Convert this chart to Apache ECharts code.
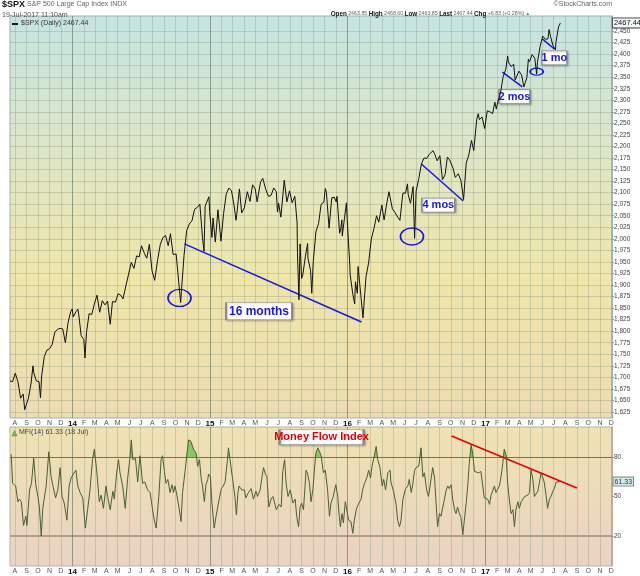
<!DOCTYPE html>
<html><head><meta charset="utf-8">
<script src="https://cdn.jsdelivr.net/npm/echarts@6.0.0/dist/echarts.min.js"></script>
<style>html,body{margin:0;padding:0;background:#fff;}#c{width:640px;height:576px;}</style>
</head><body><div id="c"></div>
<script>
// ---------- DATA ----------
const priceDates = ['2013-07-19','2013-07-26','2013-08-02','2013-08-09','2013-08-15','2013-08-16','2013-08-23','2013-08-27','2013-08-30','2013-09-06','2013-09-13','2013-09-18','2013-09-20','2013-09-27','2013-10-04','2013-10-08','2013-10-11','2013-10-18','2013-10-25','2013-11-01','2013-11-08','2013-11-15','2013-11-22','2013-11-29','2013-12-06','2013-12-13','2013-12-20','2013-12-27','2013-12-31',
'2014-01-03','2014-01-10','2014-01-15','2014-01-17','2014-01-24','2014-01-31','2014-02-03','2014-02-07','2014-02-14','2014-02-21','2014-02-28','2014-03-07','2014-03-14','2014-03-21','2014-03-28','2014-04-04','2014-04-11','2014-04-17','2014-04-25','2014-05-02','2014-05-09','2014-05-15','2014-05-23','2014-05-30','2014-06-06','2014-06-13','2014-06-20','2014-06-27','2014-07-03','2014-07-11','2014-07-17','2014-07-24','2014-07-31','2014-08-07','2014-08-15','2014-08-22','2014-08-29','2014-09-05','2014-09-12','2014-09-18','2014-09-25','2014-10-03','2014-10-10','2014-10-15','2014-10-17','2014-10-24','2014-10-31','2014-11-07','2014-11-14','2014-11-21','2014-11-28','2014-12-05','2014-12-12','2014-12-16','2014-12-19','2014-12-29','2014-12-31',
'2015-01-06','2015-01-09','2015-01-15','2015-01-22','2015-01-30','2015-02-06','2015-02-13','2015-02-20','2015-02-27','2015-03-06','2015-03-11','2015-03-13','2015-03-20','2015-03-26','2015-04-02','2015-04-10','2015-04-17','2015-04-24','2015-05-01','2015-05-06','2015-05-15','2015-05-21','2015-05-29','2015-06-05','2015-06-12','2015-06-19','2015-06-26','2015-06-29','2015-07-02','2015-07-08','2015-07-17','2015-07-24','2015-07-31','2015-08-07','2015-08-14','2015-08-20','2015-08-21','2015-08-25','2015-08-28','2015-09-01','2015-09-04','2015-09-11','2015-09-17','2015-09-18','2015-09-25','2015-09-28','2015-10-02','2015-10-09','2015-10-16','2015-10-23','2015-10-30','2015-11-03','2015-11-06','2015-11-13','2015-11-20','2015-11-27','2015-12-02','2015-12-04','2015-12-11','2015-12-14','2015-12-17','2015-12-18','2015-12-29','2015-12-31',
'2016-01-07','2016-01-08','2016-01-15','2016-01-20','2016-01-22','2016-01-27','2016-01-29','2016-02-05','2016-02-11','2016-02-19','2016-02-26','2016-03-04','2016-03-11','2016-03-18','2016-03-24','2016-04-01','2016-04-07','2016-04-15','2016-04-20','2016-04-29','2016-05-06','2016-05-13','2016-05-19','2016-05-27','2016-06-03','2016-06-08','2016-06-10','2016-06-16','2016-06-23','2016-06-27','2016-07-01','2016-07-08','2016-07-15','2016-07-22','2016-07-29','2016-08-05','2016-08-15','2016-08-19','2016-08-26','2016-09-02','2016-09-09','2016-09-16','2016-09-22','2016-09-28','2016-09-30','2016-10-07','2016-10-13','2016-10-21','2016-10-28','2016-11-04','2016-11-11','2016-11-18','2016-11-25','2016-12-01','2016-12-09','2016-12-13','2016-12-16','2016-12-23','2016-12-30',
'2017-01-06','2017-01-13','2017-01-20','2017-01-26','2017-01-30','2017-02-03','2017-02-10','2017-02-17','2017-02-24','2017-03-01','2017-03-03','2017-03-10','2017-03-17','2017-03-21','2017-03-24','2017-03-31','2017-04-07','2017-04-13','2017-04-21','2017-04-25','2017-04-28','2017-05-05','2017-05-12','2017-05-17','2017-05-19','2017-05-26','2017-06-02','2017-06-09','2017-06-16','2017-06-19','2017-06-23','2017-06-29','2017-07-06','2017-07-07','2017-07-14','2017-07-18','2017-07-19'];
const priceValues = [1692,1691,1709,1691,1661,1655,1664,1630,1633,1655,1688,1725,1710,1692,1691,1656,1703,1745,1759,1762,1771,1798,1804,1806,1805,1775,1818,1842,1848,
1831,1842,1848,1839,1790,1782,1742,1797,1838,1836,1859,1878,1841,1866,1857,1865,1815,1864,1863,1881,1878,1870,1900,1924,1949,1936,1963,1961,1985,1968,1958,1988,1931,1910,1955,1988,2003,2007,1985,2011,1966,1967,1906,1862,1886,1964,2018,2032,2039,2064,2068,2075,2002,1973,2071,2091,2059,
2003,2045,1993,2063,1995,2055,2097,2110,2104,2071,2040,2053,2108,2056,2067,2102,2081,2117,2108,2080,2123,2131,2107,2092,2094,2110,2102,2058,2077,2047,2127,2080,2104,2078,2092,2036,1971,1868,1989,1914,1921,1961,1990,1958,1931,1882,1951,2015,2033,2075,2079,2109,2100,2023,2089,2090,2080,2092,2012,2022,2041,2006,2078,2044,
1943,1922,1880,1859,1907,1882,1940,1880,1829,1918,1948,1999,2022,2050,2036,2073,2041,2081,2102,2065,2057,2047,2040,2099,2099,2119,2096,2077,2113,2001,2103,2130,2162,2175,2174,2183,2191,2184,2169,2180,2128,2139,2177,2171,2168,2153,2133,2141,2126,2085,2164,2182,2213,2191,2259,2271,2258,2264,2239,
2277,2275,2271,2296,2281,2297,2316,2351,2367,2396,2383,2373,2378,2344,2344,2363,2355,2329,2349,2389,2384,2399,2391,2357,2382,2416,2439,2432,2433,2453,2438,2419,2409,2425,2459,2460,2467.44];

const mfiDates = ['2013-07-22','2013-07-26','2013-08-03','2013-08-09','2013-08-13','2013-08-18','2013-08-24','2013-08-30','2013-09-02','2013-09-09','2013-09-14','2013-09-20','2013-09-25','2013-10-01','2013-10-05','2013-10-10','2013-10-14','2013-10-23','2013-10-30','2013-11-05','2013-11-10','2013-11-17','2013-11-23','2013-11-29','2013-12-04','2013-12-10','2013-12-17','2013-12-23','2013-12-28',
'2014-01-03','2014-01-10','2014-01-15','2014-01-21','2014-01-28','2014-02-04','2014-02-10','2014-02-16','2014-02-23','2014-02-28','2014-03-06','2014-03-13','2014-03-18','2014-03-24','2014-03-31','2014-04-04','2014-04-11','2014-04-18','2014-04-22','2014-04-28','2014-05-03','2014-05-07','2014-05-14','2014-05-21','2014-05-27','2014-06-03','2014-06-06','2014-06-10','2014-06-17','2014-06-23','2014-06-29','2014-07-06','2014-07-12','2014-07-19','2014-07-26','2014-08-02','2014-08-06','2014-08-11','2014-08-18','2014-08-24','2014-08-28','2014-09-02','2014-09-06','2014-09-11','2014-09-17','2014-09-22','2014-09-26','2014-09-30','2014-10-05','2014-10-11','2014-10-16','2014-10-20','2014-10-27','2014-11-01','2014-11-05','2014-11-11','2014-11-18','2014-11-25','2014-11-29','2014-12-04','2014-12-08','2014-12-12','2014-12-17','2014-12-21','2014-12-26','2014-12-28',
'2015-01-02','2015-01-06','2015-01-12','2015-01-17','2015-01-21','2015-01-26','2015-01-31','2015-02-05','2015-02-10','2015-02-16','2015-02-19','2015-02-23','2015-03-02','2015-03-08','2015-03-12','2015-03-16','2015-03-19','2015-03-26','2015-04-02','2015-04-06','2015-04-13','2015-04-20','2015-04-26','2015-05-03','2015-05-07','2015-05-14','2015-05-19','2015-05-23','2015-05-28','2015-06-01','2015-06-06','2015-06-12','2015-06-17','2015-06-21','2015-06-26','2015-07-03','2015-07-09','2015-07-13','2015-07-18','2015-07-22','2015-07-27','2015-08-02','2015-08-09','2015-08-15','2015-08-19','2015-08-24','2015-08-28','2015-09-01','2015-09-06','2015-09-13','2015-09-17','2015-09-22','2015-09-26','2015-10-01','2015-10-05','2015-10-09','2015-10-14','2015-10-19','2015-10-23','2015-10-29','2015-11-03','2015-11-09','2015-11-14','2015-11-18','2015-11-23','2015-11-27','2015-12-01','2015-12-06','2015-12-10','2015-12-13','2015-12-17','2015-12-21','2015-12-26','2015-12-30',
'2016-01-04','2016-01-10','2016-01-15','2016-01-19','2016-01-25','2016-01-31','2016-02-06','2016-02-10','2016-02-15','2016-02-21','2016-02-26','2016-03-02','2016-03-06','2016-03-12','2016-03-17','2016-03-21','2016-03-27','2016-04-02','2016-04-06','2016-04-11','2016-04-17','2016-04-23','2016-04-25','2016-05-02','2016-05-09','2016-05-13','2016-05-18','2016-05-22','2016-05-27','2016-06-03','2016-06-09','2016-06-13','2016-06-18','2016-06-22','2016-06-27','2016-07-01','2016-07-08','2016-07-14','2016-07-19','2016-07-23','2016-07-29','2016-08-03','2016-08-10','2016-08-14','2016-08-19','2016-08-23','2016-08-27','2016-09-01','2016-09-05','2016-09-10','2016-09-14','2016-09-19','2016-09-23','2016-09-27','2016-10-02','2016-10-06','2016-10-11','2016-10-15','2016-10-19','2016-10-24','2016-10-28','2016-11-02','2016-11-06','2016-11-11','2016-11-15','2016-11-19','2016-11-24','2016-11-28','2016-12-03','2016-12-07','2016-12-14','2016-12-20','2016-12-25','2016-12-29',
'2017-01-03','2017-01-07','2017-01-12','2017-01-16','2017-01-20','2017-01-25','2017-01-29','2017-02-03','2017-02-07','2017-02-11','2017-02-16','2017-02-20','2017-02-25','2017-03-01','2017-03-06','2017-03-10','2017-03-15','2017-03-19','2017-03-23','2017-03-28','2017-04-01','2017-04-06','2017-04-10','2017-04-15','2017-04-19','2017-04-23','2017-04-28','2017-05-02','2017-05-07','2017-05-11','2017-05-15','2017-05-20','2017-05-24','2017-05-29','2017-06-02','2017-06-06','2017-06-11','2017-06-15','2017-06-20','2017-06-24','2017-06-29','2017-07-03','2017-07-08','2017-07-12','2017-07-18'];
const mfiValues = [82,60,58,46,48,46,28,35,28,55,60,79,60,50,42,20,41,58,84,65,58,49,55,72,50,45,32,58,64,
67,70,58,53,49,26,40,54,78,86,70,46,51,41,58,50,40,54,48,68,78,68,58,41,63,81,93,78,79,61,81,60,61,55,53,39,32,26,50,78,81,69,60,63,53,59,53,58,51,41,31,53,70,83,93,92,86,83,73,78,65,58,46,59,63,67,
65,45,26,35,36,49,56,58,61,77,87,78,63,50,36,53,58,55,55,49,53,56,48,54,50,55,65,72,67,65,42,48,50,49,40,44,42,69,78,60,50,55,45,48,35,27,42,45,40,70,67,60,46,55,70,83,87,84,81,68,70,55,35,45,49,50,59,50,35,27,37,30,46,46,
32,31,22,32,41,45,48,55,60,64,70,64,73,81,88,78,72,58,63,55,68,70,61,54,44,32,27,32,48,56,58,63,53,59,70,72,73,87,65,68,55,50,64,72,64,45,27,37,35,42,41,55,58,56,59,48,40,37,42,37,34,21,32,45,58,75,89,83,69,68,68,69,58,49,
48,48,44,51,50,58,53,54,58,64,75,86,81,60,46,37,40,27,40,46,41,46,45,50,49,51,53,70,63,50,49,54,60,68,69,61,51,41,48,50,54,56,61,62,61.33];

const priceTicks = [1625,1650,1675,1700,1725,1750,1775,1800,1825,1850,1875,1900,1925,1950,1975,2000,2025,2050,2075,2100,2125,2150,2175,2200,2225,2250,2275,2300,2325,2350,2375,2400,2425,2450];
const mfiTicks = [20,50,80];
const mfiLevels = [80,20];
const monthLetters = ['J','F','M','A','M','J','J','A','S','O','N','D'];
const yearStarts = ['2014-01-01','2015-01-01','2016-01-01','2017-01-01'];
const lastPrice = ['2017-07-19', 2467.44];
const lastMfi = ['2017-07-18', 61.33];
// annotations (data coordinates: date, price)
const trendLines = [
  [['2014-10-25',1989],['2016-02-07',1820]],
  [['2016-07-15',2162],['2016-11-03',2082]],
  [['2017-02-15',2361],['2017-04-09',2329]],
  [['2017-06-01',2433],['2017-07-03',2411]]
];
const lowCircles = [['2014-10-12',1872,'big'],['2016-06-20',2005,'big'],['2017-05-17',2362,'small']];
const notes = [
  ['16 months','2015-05-11',1843],
  ['4 mos','2016-08-29',2073],
  ['2 mos','2017-03-19',2308],
  ['1 mo','2017-07-03',2392]
];
const mfiTrend = [['2016-10-03',96],['2017-09-01',56.5]];
const mfiNote = ['Money Flow Index','2015-10-24',95.2];

// ---------- AXIS CATEGORIES (calendar days) ----------
const days = [];
for (let t = Date.UTC(2013,6,19); t <= Date.UTC(2017,11,3); t += 86400000) days.push(new Date(t).toISOString().slice(0,10));
const isMonthStart = (i, v) => v.slice(8) === '01';
const FONT = '"Liberation Sans", Arial, sans-serif';

const priceData = priceDates.map((d, i) => [d, priceValues[i]]);
const mfiData = mfiDates.map((d, i) => [d, mfiValues[i]]);

function xAxisCfg(gi, showLabels) {
  return {
    type: 'category', gridIndex: gi, data: days, boundaryGap: false,
    axisLine: {show: false}, axisTick: {show: false},
    axisLabel: {
      show: showLabels, interval: isMonthStart, margin: 2, fontSize: 7, color: '#555', fontFamily: FONT,
      formatter: v => { const m = +v.slice(5,7); return m === 1 ? '{y|' + v.slice(2,4) + '}' : monthLetters[m-1]; },
      rich: {y: {fontWeight: 'bold', fontSize: 8, color: '#111', fontFamily: FONT}}
    },
    splitLine: {show: gi !== 2, interval: isMonthStart, lineStyle: {color: 'rgba(100,125,105,0.25)', width: 1}}
  };
}

const priceBg = new echarts.graphic.LinearGradient(0,0,0,1,[
  {offset:0, color:'#c5e4e2'},{offset:0.35, color:'#dfe6c6'},{offset:0.65, color:'#efe6aa'},{offset:1, color:'#eddcb2'}]);
const mfiBg = new echarts.graphic.LinearGradient(0,0,0,1,[
  {offset:0, color:'#efe2b2'},{offset:1, color:'#ead3c4'}]);

const blue = '#1818e0';
const noteSizes = {'16 months':[66,17], '4 mos':[33,14], '2 mos':[31,14], '1 mo':[25,14]};

const option = {
  animation: false,
  backgroundColor: '#ffffff',
  grid: [
    {left: 10, right: 28, top: 16, height: 402, show: true, backgroundColor: priceBg, borderColor: '#9fb3b3', borderWidth: 1},
    {left: 10, right: 28, top: 427, height: 139, show: true, backgroundColor: mfiBg, borderColor: '#b9b0a0', borderWidth: 1},
    {left: 10, right: 28, top: 427, height: 30.3, show: false}
  ],
  xAxis: [xAxisCfg(0, true), xAxisCfg(1, true), Object.assign(xAxisCfg(2, false), {show: false})],
  yAxis: [
    {type: 'value', gridIndex: 0, position: 'right', min: 1612, max: 2482.5,
      axisLine: {show: true, lineStyle: {color: '#9fb3b3'}},
      axisTick: {show: true, customValues: priceTicks, length: 2, lineStyle: {color: '#999'}},
      axisLabel: {customValues: priceTicks, fontSize: 6.5, color: '#444', margin: 2, fontFamily: FONT},
      splitLine: {show: true, lineStyle: {color: 'rgba(100,125,105,0.25)'}}},
    {type: 'value', gridIndex: 1, position: 'right', min: -2.8, max: 102.8,
      axisLine: {show: true, lineStyle: {color: '#b9b0a0'}},
      axisTick: {show: true, customValues: mfiTicks, length: 2, lineStyle: {color: '#999'}},
      axisLabel: {customValues: mfiTicks, fontSize: 6.5, color: '#444', margin: 2, fontFamily: FONT},
      splitLine: {show: false}},
    {type: 'value', gridIndex: 2, min: 80, max: 102.8, show: false, splitLine: {show: false}}
  ],
  series: [
    {
      type: 'line', name: '$SPX', xAxisIndex: 0, yAxisIndex: 0, data: priceData, symbol: 'none', z: 5,
      lineStyle: {color: '#111', width: 1}, itemStyle: {color: '#111'},
      markLine: {
        silent: true, symbol: ['none','none'], label: {show: false}, animation: false,
        data: yearStarts.map(y => ({xAxis: y, lineStyle: {color: 'rgba(80,105,85,0.45)', width: 1, type: 'solid'}}))
          .concat(trendLines.map(t => [{coord: t[0], lineStyle: {color: blue, width: 1.5, type: 'solid'}}, {coord: t[1]}]))
      },
      markPoint: {
        silent: true, animation: false,
        data: lowCircles.map(c => ({coord: [c[0], c[1]], symbol: 'circle', symbolSize: c[2] === 'big' ? [23,17] : [13,7],
            itemStyle: {color: 'rgba(0,0,0,0)', borderColor: blue, borderWidth: 1.5}, label: {show: false}}))
          .concat(notes.map(n => ({coord: [n[1], n[2]], symbol: 'rect', symbolSize: noteSizes[n[0]],
            itemStyle: {color: '#ffffff', borderColor: '#8a8a8a', borderWidth: 1, shadowColor: 'rgba(0,0,0,0.25)', shadowBlur: 2, shadowOffsetX: 1, shadowOffsetY: 1},
            label: {show: true, position: 'inside', formatter: n[0], color: blue, fontWeight: 'bold', fontSize: n[0] === '16 months' ? 12 : 11, fontFamily: FONT}})))
          .concat([{coord: lastPrice, symbol: 'rect', symbolSize: [1,1], itemStyle: {color: 'rgba(0,0,0,0)'},
            label: {show: true, position: 'right', distance: 52, formatter: String(lastPrice[1]), fontSize: 7.5, color: '#111', fontFamily: FONT,
              backgroundColor: '#f2fafa', borderColor: '#444', borderWidth: 1, padding: [1,1,0,1]}}])
      }
    },
    {
      type: 'line', name: 'MFI fill', xAxisIndex: 2, yAxisIndex: 2, data: mfiData, symbol: 'none', z: 3, clip: true,
      lineStyle: {width: 0}, areaStyle: {origin: 'start', color: '#86c766', opacity: 1}, silent: true
    },
    {
      type: 'line', name: 'MFI', xAxisIndex: 1, yAxisIndex: 1, data: mfiData, symbol: 'none', z: 5,
      lineStyle: {color: '#4c5f2f', width: 1}, itemStyle: {color: '#4c5f2f'},
      markLine: {
        silent: true, symbol: ['none','none'], label: {show: false}, animation: false,
        data: [
          {yAxis: mfiLevels[0], lineStyle: {color: '#8b6b52', width: 1, type: 'solid'}},
          {yAxis: mfiLevels[1], lineStyle: {color: '#b29c8c', width: 2, type: 'solid'}}
        ].concat(yearStarts.map(y => ({xAxis: y, lineStyle: {color: 'rgba(80,105,85,0.45)', width: 1, type: 'solid'}})))
         .concat([[{coord: mfiTrend[0], lineStyle: {color: '#e80000', width: 1.5, type: 'solid'}}, {coord: mfiTrend[1]}]])
      },
      markPoint: {
        silent: true, animation: false,
        data: [
          {coord: [mfiNote[1], mfiNote[2]], symbol: 'rect', symbolSize: [84,15],
            itemStyle: {color: '#ffffff', borderColor: '#8a8a8a', borderWidth: 1, shadowColor: 'rgba(0,0,0,0.25)', shadowBlur: 2, shadowOffsetX: 1, shadowOffsetY: 1},
            label: {show: true, position: 'inside', formatter: mfiNote[0], color: '#e80000', fontWeight: 'bold', fontSize: 11, fontFamily: FONT}},
          {coord: lastMfi, symbol: 'rect', symbolSize: [1,1], itemStyle: {color: 'rgba(0,0,0,0)'},
            label: {show: true, position: 'right', distance: 53, formatter: String(lastMfi[1]), fontSize: 7, color: '#333', fontFamily: FONT,
              backgroundColor: '#d2eaea', borderColor: '#888', borderWidth: 1, padding: [1,1,0,1]}}
        ]
      }
    }
  ],
  graphic: [
    {type: 'text', left: 2, top: 0, style: {text: '{b|$SPX} {n|S&P 500 Large Cap Index INDX}', fontSize: 7, fontFamily: FONT, rich: {
      b: {fontWeight: 'bold', fontSize: 9, fill: '#111', fontFamily: FONT}, n: {fontSize: 7, fill: '#666', fontFamily: FONT}}}},
    {type: 'text', left: 2, top: 12, style: {text: '19-Jul-2017 11:10am', fontSize: 7, fill: '#555', fontFamily: FONT}},
    {type: 'text', right: 28, top: 1, style: {text: '©StockCharts.com', fontSize: 7, fill: '#666', fontFamily: FONT}},
    {type: 'text', right: 110, top: 11, style: {
      text: '{b|Open} {v|2463.85} {b|High} {v|2468.60} {b|Low} {v|2463.85} {b|Last} {v|2467.44} {b|Chg} {v|+6.83 (+0.28%)} {g|▲}',
      fontSize: 5, fontFamily: FONT,
      rich: {b: {fontWeight: 'bold', fontSize: 6.3, fill: '#111', fontFamily: FONT}, v: {fontSize: 5.3, fill: '#666', fontFamily: FONT}, g: {fontSize: 4.5, fill: '#2a9a2a'}}}},
    {type: 'line', shape: {x1: 12, y1: 24, x2: 18, y2: 24}, style: {stroke: '#111', lineWidth: 2}},
    {type: 'text', left: 21, top: 20, style: {text: '$SPX (Daily) 2467.44', fontSize: 7, fill: '#333', fontFamily: FONT}},
    {type: 'polygon', shape: {points: [[12,436],[14.5,430.5],[17,436]]}, style: {fill: '#7cbf5a', stroke: '#4d7a36', lineWidth: 0.5}},
    {type: 'text', left: 19, top: 429, style: {text: 'MFI(14) 61.33 (18 Jul)', fontSize: 7, fill: '#444', fontFamily: FONT}}
  ]
};
const chart = echarts.init(document.getElementById('c'), null, {width: 640, height: 576});
chart.setOption(option);
</script></body></html>
